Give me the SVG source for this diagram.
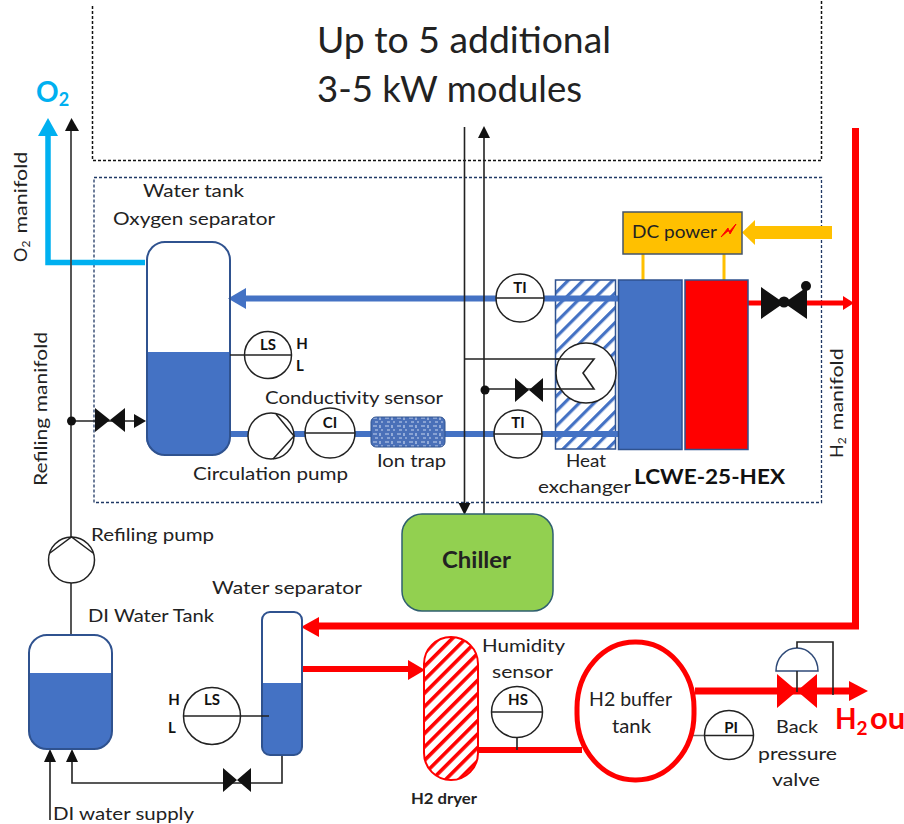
<svg xmlns="http://www.w3.org/2000/svg" width="904" height="824" viewBox="0 0 904 824">
<style>
text{font-family:Lato,"Open Sans","Liberation Sans",sans-serif;fill:#222}
.l{font-size:18px}
.b{font-weight:700}
.tag{font-size:15px;font-weight:700;text-anchor:middle;fill:#111}
.i{fill:#fff;stroke:#222;stroke-width:1.5}
.bar{stroke:#222;stroke-width:1.5;fill:none}
.v{fill:#4472c4;stroke:none}
.ves{fill:none;stroke:#2f528f;stroke-width:2}
.k{fill:none;stroke:#222;stroke-width:1.6}
.blue{fill:none;stroke:#4472c4;stroke-width:6}
.red{fill:none;stroke:#f00;stroke-width:6}
</style>
<defs>
<pattern id="hb" width="10.500" height="10.500" patternUnits="userSpaceOnUse" patternTransform="rotate(-45)"><rect width="10.500" height="10.500" fill="#fff"/><rect width="10.500" height="3.200" fill="#4472c4"/></pattern>
<pattern id="hr" width="9.500" height="9.500" patternUnits="userSpaceOnUse" patternTransform="rotate(-45)"><rect width="9.500" height="9.500" fill="#fff"/><rect width="9.500" height="3.600" fill="#f00"/></pattern>
<pattern id="ion" width="12" height="8" patternUnits="userSpaceOnUse"><rect width="12" height="8" fill="#4a70b8"/><path d="M1 2h4M8 1v3M3 6h3M9 6h2" stroke="#c5d3ee" stroke-width="1.2"/></pattern>
</defs>
<rect width="904" height="824" fill="#fff"/>
<g id="modules-box">
<path d="M92.500 6V160.500H821.500V0" fill="none" stroke="#111" stroke-width="1.500" stroke-dasharray="3 2"/>
<text x="317" y="53" font-size="36" textLength="294" lengthAdjust="spacingAndGlyphs">Up to 5 additional</text>
<text x="317" y="102" font-size="36" textLength="265" lengthAdjust="spacingAndGlyphs">3-5 kW modules</text>
</g>
<g id="module-box"><rect x="94" y="177.500" width="727.500" height="325" fill="none" stroke="#1f3864" stroke-width="1.300" stroke-dasharray="3 2"/></g>
<g id="heat-exchanger-body"><rect x="555.500" y="280" width="60" height="169" fill="url(#hb)" stroke="#2f528f" stroke-width="1.500"/></g>
<g id="connectors">
<path class="blue" d="M618 298.500H240"/><path d="M228 298.500L246 288V309Z" fill="#4472c4"/>
<path class="blue" d="M230 434H618"/>
<path d="M145 262.500H48V130" fill="none" stroke="#00b0f0" stroke-width="5.500"/><path d="M48 118L58 136H38Z" fill="#00b0f0"/>
<path d="M71 635V128" fill="none" stroke="#444" stroke-width="1.800"/><path d="M71.500 118L79 131H65Z" fill="#111"/>
<path class="k" d="M71 421H136"/><circle cx="71.500" cy="421" r="4.500" fill="#111"/><path d="M146 421L134 414V428Z" fill="#111"/>
<path class="k" d="M464.500 127V505"/><path d="M464.500 515L458.500 503H470.500Z" fill="#111"/>
<path class="k" d="M484 514V136"/><path d="M484 126L478 138H490Z" fill="#111"/>
<path class="k" d="M465 359H594L583 373L594 389H485"/><circle cx="485" cy="390" r="4.500" fill="#111"/>
<path d="M643 254V280M724 254V280" stroke="#ffc000" stroke-width="3" fill="none"/>
<path d="M832 232.500H752" stroke="#ffc000" stroke-width="13"/><path d="M742 232.500L755 220V245Z" fill="#ffc000"/>
<path d="M748 303H845" stroke="#f00" stroke-width="5"/><path d="M854 303L843 296V310Z" fill="#f00"/>
<path d="M855.500 128V626H315" fill="none" stroke="#f00" stroke-width="7"/><path d="M301 627L319 617V637Z" fill="#f00"/>
<path class="red" d="M302 669H412"/><path d="M425 670L408 660V680Z" fill="#f00"/>
<path class="red" d="M478 750H582"/>
<path d="M695 691H852" stroke="#f00" stroke-width="7"/><path d="M868 691L849 681V701Z" fill="#f00"/>
<path class="k" d="M50 820V758M72 758V783H282V755"/><path d="M50 749L44 762H56Z M72 749L66 762H78Z" fill="#111"/>
<path class="k" d="M517 737V750"/>
<path d="M692 735.500H706" stroke="#666" stroke-width="1.500"/>
</g>
<g id="coil-circle"><circle cx="586" cy="373" r="30" fill="#fff" stroke="#222" stroke-width="1.500"/><path class="k" d="M556 359H594L583 373L594 389H556"/></g>
<g id="water-tank">
<path class="v" d="M146 352H230V437a18 18 0 0 1-18 18H164a18 18 0 0 1-18-18Z"/>
<rect class="ves" x="147" y="242" width="83" height="213" rx="18"/>
<text class="l" x="143" y="197" textLength="101" lengthAdjust="spacingAndGlyphs">Water tank</text>
<text class="l" x="113" y="225" textLength="162" lengthAdjust="spacingAndGlyphs">Oxygen separator</text>
</g>
<g id="ti-top"><circle class="i" cx="520" cy="298" r="24"/><path class="bar" d="M496 298H544"/><text class="tag" x="520" y="293">TI</text></g>
<g id="ti-bottom"><circle class="i" cx="518" cy="434" r="24"/><path class="bar" d="M494 434H542"/><text class="tag" x="518" y="428">TI</text></g>
<g id="cooling-valve"><path d="M515 378L543 402V378L515 402Z" fill="#111"/></g>
<g id="stack-anode"><rect x="618.500" y="280" width="63.500" height="169.500" fill="#4472c4" stroke="#2f528f" stroke-width="1.500"/></g>
<g id="stack-cathode"><rect x="685" y="280" width="63" height="169.500" fill="#f00" stroke="#2f528f" stroke-width="1.500"/></g>
<g id="dc-power">
<rect x="623" y="212" width="119" height="42" fill="#ffc000" stroke="#44546a" stroke-width="1.500"/>
<text class="l" x="632" y="238" textLength="85" lengthAdjust="spacingAndGlyphs">DC power</text>
<path d="M721 237L728 228L729 232L736 224L730 234L729 230Z" fill="#f00" stroke="#f00"/>
</g>
<g id="stack-valve"><path d="M761 287L807 319V287L761 319Z" fill="#111"/><circle cx="784" cy="302" r="5.500" fill="#111"/><circle cx="806" cy="286" r="5" fill="#111"/></g>
<g id="level-switch-top"><circle class="i" cx="268" cy="355" r="23.500"/><path class="bar" d="M230 355H292"/><text class="tag" x="268" y="350">LS</text><text class="tag" x="302" y="349">H</text><text class="tag" x="300" y="371">L</text></g>
<g id="circulation-pump"><circle class="i" cx="271" cy="436" r="23"/><path class="bar" d="M276 414L294 436L273 459"/>
<text class="l" x="193" y="480" textLength="155" lengthAdjust="spacingAndGlyphs">Circulation pump</text></g>
<g id="conductivity-sensor"><circle class="i" cx="330" cy="433" r="25"/><path class="bar" d="M305 433H355"/><text class="tag" x="330" y="428">CI</text>
<text class="l" x="265" y="404" textLength="178" lengthAdjust="spacingAndGlyphs">Conductivity sensor</text></g>
<g id="ion-trap"><rect x="371" y="417" width="74" height="30" rx="5" fill="url(#ion)" stroke="#2f528f"/><text class="l" x="377" y="467" textLength="69" lengthAdjust="spacingAndGlyphs">Ion trap</text></g>
<g id="refill-valve"><path d="M95 408L125 432V408L95 432Z" fill="#111"/></g>
<g id="refilling-pump"><circle class="i" cx="71.500" cy="560" r="23"/><path class="bar" d="M50 553L71.500 537L93 553"/><text class="l" x="91" y="541" textLength="123" lengthAdjust="spacingAndGlyphs">Refiling pump</text></g>
<g id="di-tank">
<path class="v" d="M29 673H112V731a18 18 0 0 1-18 18H47a18 18 0 0 1-18-18Z"/>
<rect class="ves" x="29" y="635" width="83" height="114" rx="18"/>
<text class="l" x="88" y="622" textLength="126" lengthAdjust="spacingAndGlyphs">DI Water Tank</text>
<text class="l" x="53" y="820" textLength="141" lengthAdjust="spacingAndGlyphs">DI water supply</text>
</g>
<g id="water-separator">
<rect x="262" y="612" width="40" height="143" rx="8" fill="#fff"/>
<path class="v" d="M262 683H302V747a8 8 0 0 1-8 8H270a8 8 0 0 1-8-8Z"/>
<rect class="ves" x="262" y="612" width="40" height="143" rx="8"/>
<text class="l" x="212" y="594" textLength="150" lengthAdjust="spacingAndGlyphs">Water separator</text>
</g>
<g id="level-switch-bottom"><circle class="i" cx="212" cy="716" r="28.500"/><path class="bar" d="M184 716H269"/><text class="tag" x="212" y="705">LS</text><text class="tag" x="174" y="705">H</text><text class="tag" x="172" y="733">L</text></g>
<g id="drain-valve"><path d="M223 768L251 792V768L223 792Z" fill="#111"/></g>
<g id="chiller"><rect x="402" y="514" width="151" height="97" rx="20" fill="#92d050" stroke="#2f5f6f" stroke-width="1.500"/><text x="442" y="568" font-size="22" class="b" textLength="69" lengthAdjust="spacingAndGlyphs">Chiller</text></g>
<g id="h2-dryer"><rect x="424" y="637" width="54" height="143" rx="27" fill="url(#hr)" stroke="#f00" stroke-width="2"/><text x="411" y="804" font-size="15" class="b" textLength="66" lengthAdjust="spacingAndGlyphs">H2 dryer</text></g>
<g id="humidity-sensor"><circle class="i" cx="517" cy="712" r="25.500"/><path class="bar" d="M491.500 712H542.500"/><text class="tag" x="518" y="705">HS</text>
<text class="l" x="482" y="652" textLength="83" lengthAdjust="spacingAndGlyphs">Humidity</text><text class="l" x="492" y="678" textLength="61" lengthAdjust="spacingAndGlyphs">sensor</text></g>
<g id="h2-buffer-tank"><rect x="577" y="642" width="117" height="138" rx="58" ry="66" fill="#fff" stroke="#f00" stroke-width="5"/>
<text x="589" y="706" font-size="20" textLength="83" lengthAdjust="spacingAndGlyphs">H2 buffer</text><text x="612" y="733" font-size="20" textLength="39" lengthAdjust="spacingAndGlyphs">tank</text></g>
<g id="pressure-indicator"><circle class="i" cx="729" cy="735" r="24.500"/><path class="bar" d="M704.500 735.500H753.500"/><text class="tag" x="731" y="733">PI</text></g>
<g id="back-pressure-valve">
<path d="M777 674L817 708V674L777 708Z" fill="#f00"/>
<path d="M776 671a21 23 0 0 1 42 0Z" fill="#fff" stroke="#2f4a78" stroke-width="1.500"/>
<path class="k" d="M797 671V692M797 648V642H833V695"/>
<text class="l" x="776" y="733" textLength="42" lengthAdjust="spacingAndGlyphs">Back</text><text class="l" x="758" y="760" textLength="79" lengthAdjust="spacingAndGlyphs">pressure</text><text class="l" x="772" y="786" textLength="48" lengthAdjust="spacingAndGlyphs">valve</text>
</g>
<g id="labels">
<text x="36" y="102" font-size="28" class="b" style="fill:#00b0f0">O<tspan font-size="18" dy="4">2</tspan></text>
<text x="835" y="729" font-size="28" class="b" style="fill:#f00">H<tspan font-size="19" dy="6">2</tspan><tspan dy="-6" x="870" font-size="31">ou</tspan></text>
<text class="l" transform="translate(47 486) rotate(-90)" textLength="154" lengthAdjust="spacingAndGlyphs">Refiling manifold</text>
<text font-size="18" transform="translate(27 262) rotate(-90)">O<tspan font-size="12" dy="3">2</tspan><tspan dy="-3" dx="7" textLength="82" lengthAdjust="spacingAndGlyphs">manifold</tspan></text>
<text font-size="18" transform="translate(843 458) rotate(-90)">H<tspan font-size="12" dy="3">2</tspan><tspan dy="-3" dx="7" textLength="82" lengthAdjust="spacingAndGlyphs">manifold</tspan></text>
<text class="l" x="566" y="467" textLength="40" lengthAdjust="spacingAndGlyphs">Heat</text><text class="l" x="538" y="493" textLength="93" lengthAdjust="spacingAndGlyphs">exchanger</text>
<text x="634" y="484" font-size="21" class="b" style="fill:#111" textLength="151" lengthAdjust="spacingAndGlyphs">LCWE-25-HEX</text>
</g>
</svg>
